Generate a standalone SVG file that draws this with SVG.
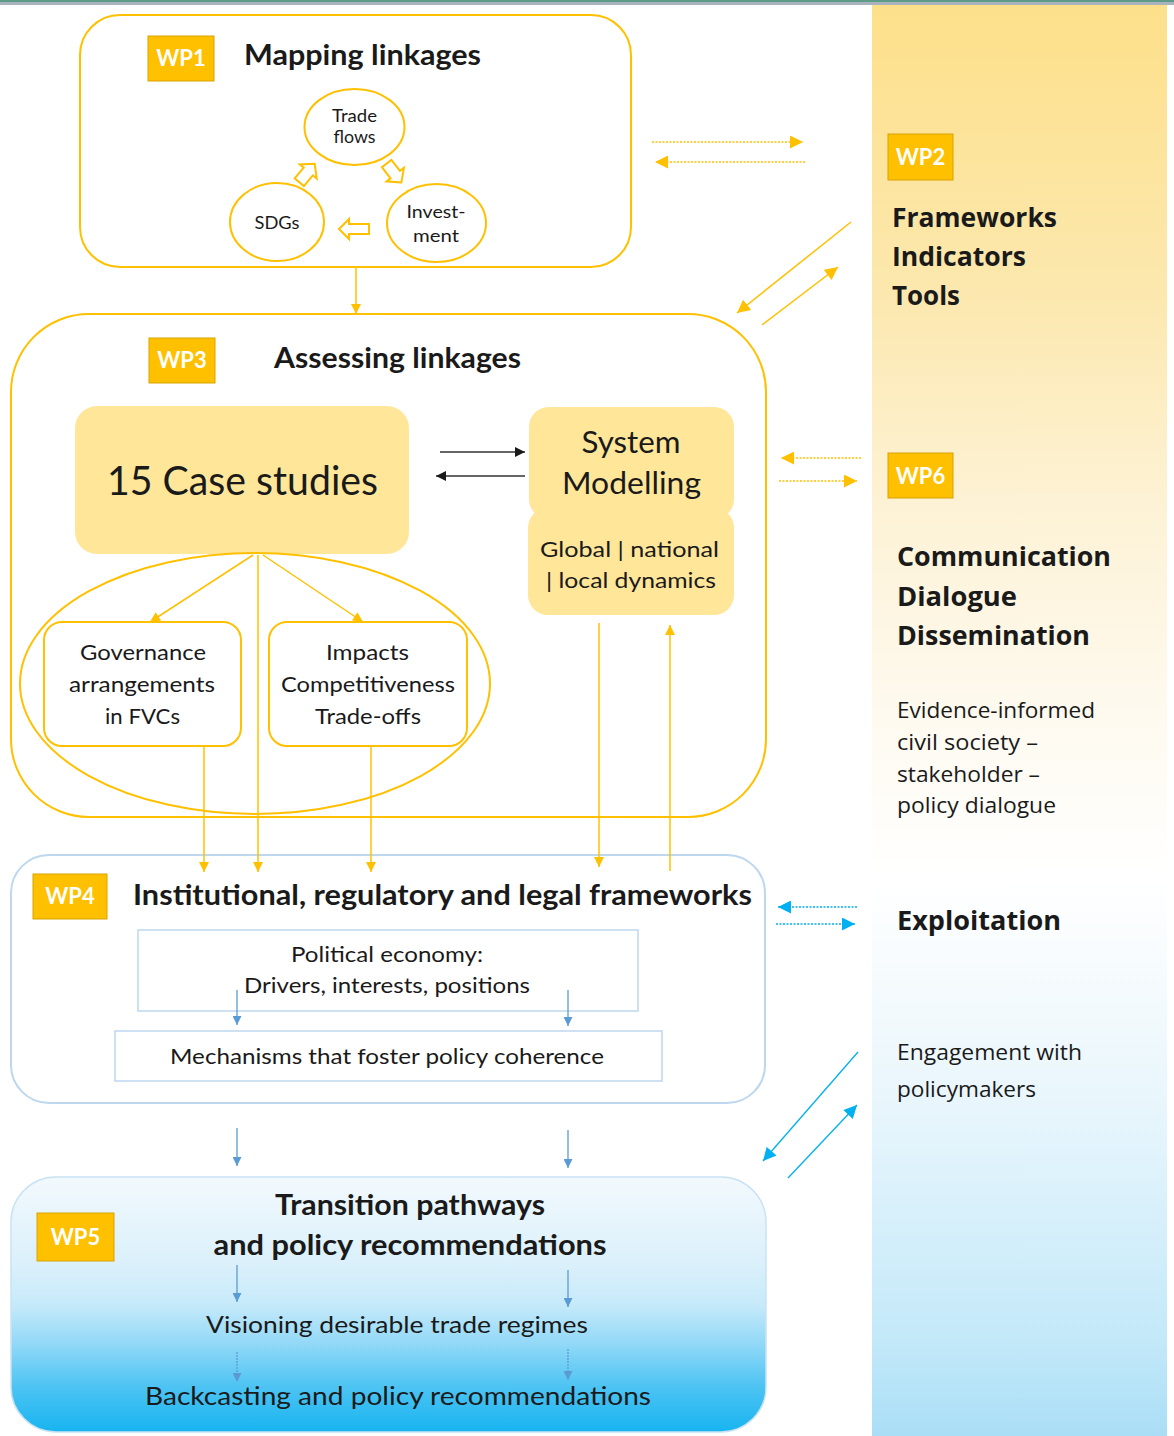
<svg xmlns="http://www.w3.org/2000/svg" width="1174" height="1436" viewBox="0 0 1174 1436">
<defs>
<linearGradient id="colGrad" x1="0" y1="5" x2="0" y2="1436" gradientUnits="userSpaceOnUse">
<stop offset="0" stop-color="#FDE08A"/>
<stop offset="0.2" stop-color="#FCE8AE"/>
<stop offset="0.35" stop-color="#FDF2D5"/>
<stop offset="0.5" stop-color="#FEFAF0"/>
<stop offset="0.61" stop-color="#FFFFFF"/>
<stop offset="0.7" stop-color="#F3FAFD"/>
<stop offset="0.78" stop-color="#E6F5FC"/>
<stop offset="0.93" stop-color="#C4E9F9"/>
<stop offset="1" stop-color="#AADEF6"/>
</linearGradient>
<linearGradient id="wp5Grad" x1="0" y1="1177" x2="0" y2="1432" gradientUnits="userSpaceOnUse">
<stop offset="0" stop-color="#F2F9FD"/>
<stop offset="0.35" stop-color="#DAF0FB"/>
<stop offset="0.5" stop-color="#C6EAFA"/>
<stop offset="0.65" stop-color="#93D9F7"/>
<stop offset="0.82" stop-color="#4EC4F3"/>
<stop offset="1" stop-color="#17B4F0"/>
</linearGradient>
<marker id="ay" viewBox="0 0 10 10" refX="10" refY="5" markerWidth="11" markerHeight="10" orient="auto" markerUnits="userSpaceOnUse"><path d="M0,0 L10,5 L0,10 Z" fill="#FFC000"/></marker>
<marker id="ayL" viewBox="0 0 10 10" refX="10" refY="5" markerWidth="14" markerHeight="13" orient="auto" markerUnits="userSpaceOnUse"><path d="M0,0 L10,5 L0,10 Z" fill="#FFC000"/></marker>
<marker id="ak" viewBox="0 0 10 10" refX="10" refY="5" markerWidth="11" markerHeight="10" orient="auto" markerUnits="userSpaceOnUse"><path d="M0,0 L10,5 L0,10 Z" fill="#1A1A1A"/></marker>
<marker id="ab" viewBox="0 0 10 10" refX="10" refY="5" markerWidth="10" markerHeight="9" orient="auto" markerUnits="userSpaceOnUse"><path d="M0,0 L10,5 L0,10 Z" fill="#5B9BD5"/></marker>
<marker id="ac" viewBox="0 0 10 10" refX="10" refY="5" markerWidth="14" markerHeight="13" orient="auto" markerUnits="userSpaceOnUse"><path d="M0,0 L10,5 L0,10 Z" fill="#00B0F0"/></marker>
<path id="blockArrow" d="M-15,0 L-5,-10 L-5,-5 L15,-5 L15,5 L-5,5 L-5,10 Z"/>
<path id="blockArrowShort" d="M-12,0 L-2,-11 L-2,-6 L12,-6 L12,6 L-2,6 L-2,11 Z"/>
</defs>
<style>
.lt{font-family:Lato,"Liberation Sans",sans-serif;fill:#1A1A1A}
.b{font-weight:bold}
.os{font-family:"Open Sans","DejaVu Sans",sans-serif;fill:#1A1A1A}
.badge{fill:#FFC000;stroke:#D9A300;stroke-width:1}
.bt{font-family:Lato,"Liberation Sans",sans-serif;font-weight:bold;fill:#FFFFFF;font-size:22px;text-anchor:middle}
.yb{fill:#FFFFFF;stroke:#FFC000;stroke-width:2}
.yfill{fill:#FFE699}
.bluebox{fill:#FFFFFF;stroke:#BDD7EE;stroke-width:2}
.inner{fill:#FFFFFF;stroke:#BDD7EE;stroke-width:1.5}
.ly{stroke:#FFC000;stroke-width:1.5;fill:none;marker-end:url(#ay)}
.lyd{stroke:#FFC000;stroke-width:1.5;stroke-dasharray:2 1.5;fill:none;marker-end:url(#ayL)}
.lk{stroke:#333333;stroke-width:1.5;fill:none;marker-end:url(#ak)}
.lb{stroke:#5B9BD5;stroke-width:1.3;fill:none;marker-end:url(#ab)}
.lc{stroke:#00B0F0;stroke-width:1.3;fill:none;marker-end:url(#ac)}
.lcd{stroke:#00B0F0;stroke-width:1.5;stroke-dasharray:2 1.5;fill:none;marker-end:url(#ac)}
.c{text-anchor:middle}
</style>
<rect x="0" y="0" width="1174" height="1436" fill="#FFFFFF"/>
<rect x="0" y="0" width="1174" height="2" fill="#5E9C88"/>
<rect x="0" y="2" width="1174" height="3" fill="#A9B3BE"/>

<g id="side-column">
<rect x="872" y="5" width="295" height="1431" fill="url(#colGrad)"/>
</g>

<g id="wp2">
<rect class="badge" x="888" y="134" width="65" height="46"/>
<text class="bt" x="920.5" y="165">WP2</text>
<text class="os b" x="892" y="227" font-size="27" textLength="165" lengthAdjust="spacingAndGlyphs">Frameworks</text>
<text class="os b" x="892" y="266" font-size="27" textLength="134" lengthAdjust="spacingAndGlyphs">Indicators</text>
<text class="os b" x="892" y="305" font-size="27" textLength="68" lengthAdjust="spacingAndGlyphs">Tools</text>
</g>

<g id="wp6">
<rect class="badge" x="888" y="453" width="65" height="45"/>
<text class="bt" x="920.5" y="484">WP6</text>
<text class="os b" x="897" y="566" font-size="27" textLength="214" lengthAdjust="spacingAndGlyphs">Communication</text>
<text class="os b" x="897" y="606" font-size="27" textLength="120" lengthAdjust="spacingAndGlyphs">Dialogue</text>
<text class="os b" x="897" y="645" font-size="27" textLength="193" lengthAdjust="spacingAndGlyphs">Dissemination</text>
<text class="os" x="897" y="718" font-size="22" textLength="198" lengthAdjust="spacingAndGlyphs">Evidence-informed</text>
<text class="os" x="897" y="750" font-size="22" textLength="141" lengthAdjust="spacingAndGlyphs">civil society –</text>
<text class="os" x="897" y="782" font-size="22" textLength="143" lengthAdjust="spacingAndGlyphs">stakeholder –</text>
<text class="os" x="897" y="813" font-size="22" textLength="159" lengthAdjust="spacingAndGlyphs">policy dialogue</text>
<text class="os b" x="897" y="930" font-size="27" textLength="164" lengthAdjust="spacingAndGlyphs">Exploitation</text>
<text class="os" x="897" y="1060" font-size="22" textLength="185" lengthAdjust="spacingAndGlyphs">Engagement with</text>
<text class="os" x="897" y="1097" font-size="22" textLength="139" lengthAdjust="spacingAndGlyphs">policymakers</text>
</g>

<g id="wp1">
<rect class="yb" x="80" y="15" width="551" height="252" rx="40" ry="40"/>
<rect class="badge" x="148" y="36" width="66" height="45"/>
<text class="bt" x="181" y="66">WP1</text>
<text class="lt b" x="244" y="65" font-size="29" textLength="237" lengthAdjust="spacingAndGlyphs">Mapping linkages</text>
</g>

<g id="trade-flows">
<ellipse class="yb" cx="354.5" cy="127" rx="50" ry="38"/>
<text class="lt c" x="354.5" y="122" font-size="18" textLength="45" lengthAdjust="spacingAndGlyphs">Trade</text>
<text class="lt c" x="354.5" y="143" font-size="18" textLength="42" lengthAdjust="spacingAndGlyphs">flows</text>
</g>
<g id="sdgs">
<ellipse class="yb" cx="277" cy="222" rx="47" ry="39"/>
<text class="lt c" x="277" y="229" font-size="18" textLength="45" lengthAdjust="spacingAndGlyphs">SDGs</text>
</g>
<g id="investment">
<ellipse class="yb" cx="436.5" cy="223" rx="49.5" ry="39"/>
<text class="lt c" x="436" y="218" font-size="18" textLength="59" lengthAdjust="spacingAndGlyphs">Invest-</text>
<text class="lt c" x="436" y="242" font-size="18" textLength="46" lengthAdjust="spacingAndGlyphs">ment</text>
</g>

<g id="wp3">
<rect class="yb" x="11" y="314" width="755" height="503" rx="78" ry="78"/>
<rect class="badge" x="149" y="338" width="66" height="45"/>
<text class="bt" x="182" y="368">WP3</text>
<text class="lt b" x="274" y="368" font-size="28" textLength="247" lengthAdjust="spacingAndGlyphs">Assessing linkages</text>
</g>

<g id="case-studies">
<rect class="yfill" x="75" y="406" width="334" height="148" rx="22" ry="22"/>
<text class="lt c" x="242.5" y="495" font-size="41" textLength="271" lengthAdjust="spacingAndGlyphs">15 Case studies</text>
</g>

<g id="system-modelling">
<rect class="yfill" x="529" y="407" width="205" height="112" rx="20" ry="20"/>
<rect class="yfill" x="528" y="508" width="206" height="107" rx="20" ry="20"/>
<text class="lt c" x="631" y="453" font-size="31" textLength="99" lengthAdjust="spacingAndGlyphs">System</text>
<text class="lt c" x="631.5" y="494" font-size="31" textLength="139" lengthAdjust="spacingAndGlyphs">Modelling</text>
<text class="lt c" x="629.5" y="557" font-size="22" textLength="179" lengthAdjust="spacingAndGlyphs">Global | national</text>
<text class="lt c" x="631" y="588" font-size="22" textLength="170" lengthAdjust="spacingAndGlyphs">| local dynamics</text>
</g>

<g id="case-ellipse">
<ellipse cx="255" cy="683.5" rx="235" ry="130.5" fill="none" stroke="#FFC000" stroke-width="2"/>
</g>

<g id="governance">
<rect class="yb" x="44" y="622" width="197" height="124" rx="18" ry="18"/>
<text class="lt c" x="143" y="660" font-size="22" textLength="126" lengthAdjust="spacingAndGlyphs">Governance</text>
<text class="lt c" x="142" y="692" font-size="22" textLength="146" lengthAdjust="spacingAndGlyphs">arrangements</text>
<text class="lt c" x="142.5" y="724" font-size="22" textLength="75" lengthAdjust="spacingAndGlyphs">in FVCs</text>
</g>

<g id="impacts">
<rect class="yb" x="269" y="622" width="198" height="124" rx="18" ry="18"/>
<text class="lt c" x="367.5" y="660" font-size="22" textLength="83" lengthAdjust="spacingAndGlyphs">Impacts</text>
<text class="lt c" x="368" y="692" font-size="22" textLength="174" lengthAdjust="spacingAndGlyphs">Competitiveness</text>
<text class="lt c" x="368" y="724" font-size="22" textLength="106" lengthAdjust="spacingAndGlyphs">Trade-offs</text>
</g>

<g id="wp4">
<rect class="bluebox" x="11" y="855" width="754" height="248" rx="38" ry="38"/>
<rect class="badge" x="33" y="874" width="74" height="45"/>
<text class="bt" x="70" y="904">WP4</text>
<text class="lt b" x="133" y="905" font-size="28" textLength="619" lengthAdjust="spacingAndGlyphs">Institutional, regulatory and legal frameworks</text>
</g>

<g id="political-economy">
<rect class="inner" x="138" y="930" width="500" height="81"/>
<text class="lt c" x="387" y="962" font-size="22" textLength="192" lengthAdjust="spacingAndGlyphs">Political economy:</text>
<text class="lt c" x="387" y="993" font-size="22" textLength="286" lengthAdjust="spacingAndGlyphs">Drivers, interests, positions</text>
</g>

<g id="mechanisms">
<rect class="inner" x="115" y="1031" width="547" height="50"/>
<text class="lt c" x="387" y="1064" font-size="22" textLength="434" lengthAdjust="spacingAndGlyphs">Mechanisms that foster policy coherence</text>
</g>

<g id="wp5">
<rect x="11" y="1177" width="755" height="255" rx="45" ry="45" fill="url(#wp5Grad)" stroke="#C9E2F3" stroke-width="1.5"/>
<rect class="badge" x="37" y="1213" width="77" height="48"/>
<text class="bt" x="75.5" y="1245">WP5</text>
<text class="lt b c" x="410" y="1215" font-size="28" textLength="270" lengthAdjust="spacingAndGlyphs">Transition pathways</text>
<text class="lt b c" x="410" y="1255" font-size="28" textLength="393" lengthAdjust="spacingAndGlyphs">and policy recommendations</text>
<text class="lt c" x="397" y="1333" font-size="24" textLength="382" lengthAdjust="spacingAndGlyphs">Visioning desirable trade regimes</text>
<text class="lt c" x="398" y="1405" font-size="25" textLength="506" lengthAdjust="spacingAndGlyphs">Backcasting and policy recommendations</text>
</g>

<g id="connectors">
<use href="#blockArrow" transform="translate(354,229)" fill="#FFFFFF" stroke="#FFC000" stroke-width="2"/>
<use href="#blockArrowShort" transform="translate(307,173) rotate(130)" fill="#FFFFFF" stroke="#FFC000" stroke-width="2"/>
<use href="#blockArrowShort" transform="translate(394,173) rotate(-128)" fill="#FFFFFF" stroke="#FFC000" stroke-width="2"/>
<line class="ly" x1="356" y1="267" x2="356" y2="314"/>
<line class="lyd" x1="652" y1="142" x2="803" y2="142"/>
<line class="lyd" x1="805" y1="162" x2="655" y2="162"/>
<line class="ly" x1="851" y1="222" x2="737" y2="313" style="marker-end:url(#ayL)"/>
<line class="ly" x1="762" y1="325" x2="838" y2="267" style="marker-end:url(#ayL)"/>
<line class="lyd" x1="861" y1="458" x2="781" y2="458"/>
<line class="lyd" x1="779" y1="481" x2="857" y2="481"/>
<line class="lk" x1="440" y1="452" x2="525" y2="452"/>
<line class="lk" x1="525" y1="476" x2="436" y2="476"/>
<line class="ly" x1="253" y1="555" x2="150" y2="622"/>
<line class="ly" x1="263" y1="555" x2="363" y2="622"/>
<line class="ly" x1="258" y1="555" x2="258" y2="872"/>
<line class="ly" x1="204" y1="746" x2="204" y2="872"/>
<line class="ly" x1="371" y1="746" x2="371" y2="872"/>
<line class="ly" x1="599" y1="623" x2="599" y2="867"/>
<line class="ly" x1="670" y1="871" x2="670" y2="625"/>
<line class="lcd" x1="857" y1="907" x2="778" y2="907"/>
<line class="lcd" x1="776" y1="924" x2="855" y2="924"/>
<line class="lb" x1="237" y1="990" x2="237" y2="1025"/>
<line class="lb" x1="568" y1="990" x2="568" y2="1026"/>
<line class="lb" x1="237" y1="1128" x2="237" y2="1166"/>
<line class="lb" x1="568" y1="1130" x2="568" y2="1168"/>
<line class="lc" x1="858" y1="1052" x2="763" y2="1161"/>
<line class="lc" x1="788" y1="1178" x2="857" y2="1105"/>
<line class="lb" x1="237" y1="1265" x2="237" y2="1302"/>
<line class="lb" x1="568" y1="1270" x2="568" y2="1307"/>
<line class="lb" x1="237" y1="1352" x2="237" y2="1382" stroke-dasharray="2 1"/>
<line class="lb" x1="568" y1="1349" x2="568" y2="1380" stroke-dasharray="2 1"/>
</g>
</svg>
